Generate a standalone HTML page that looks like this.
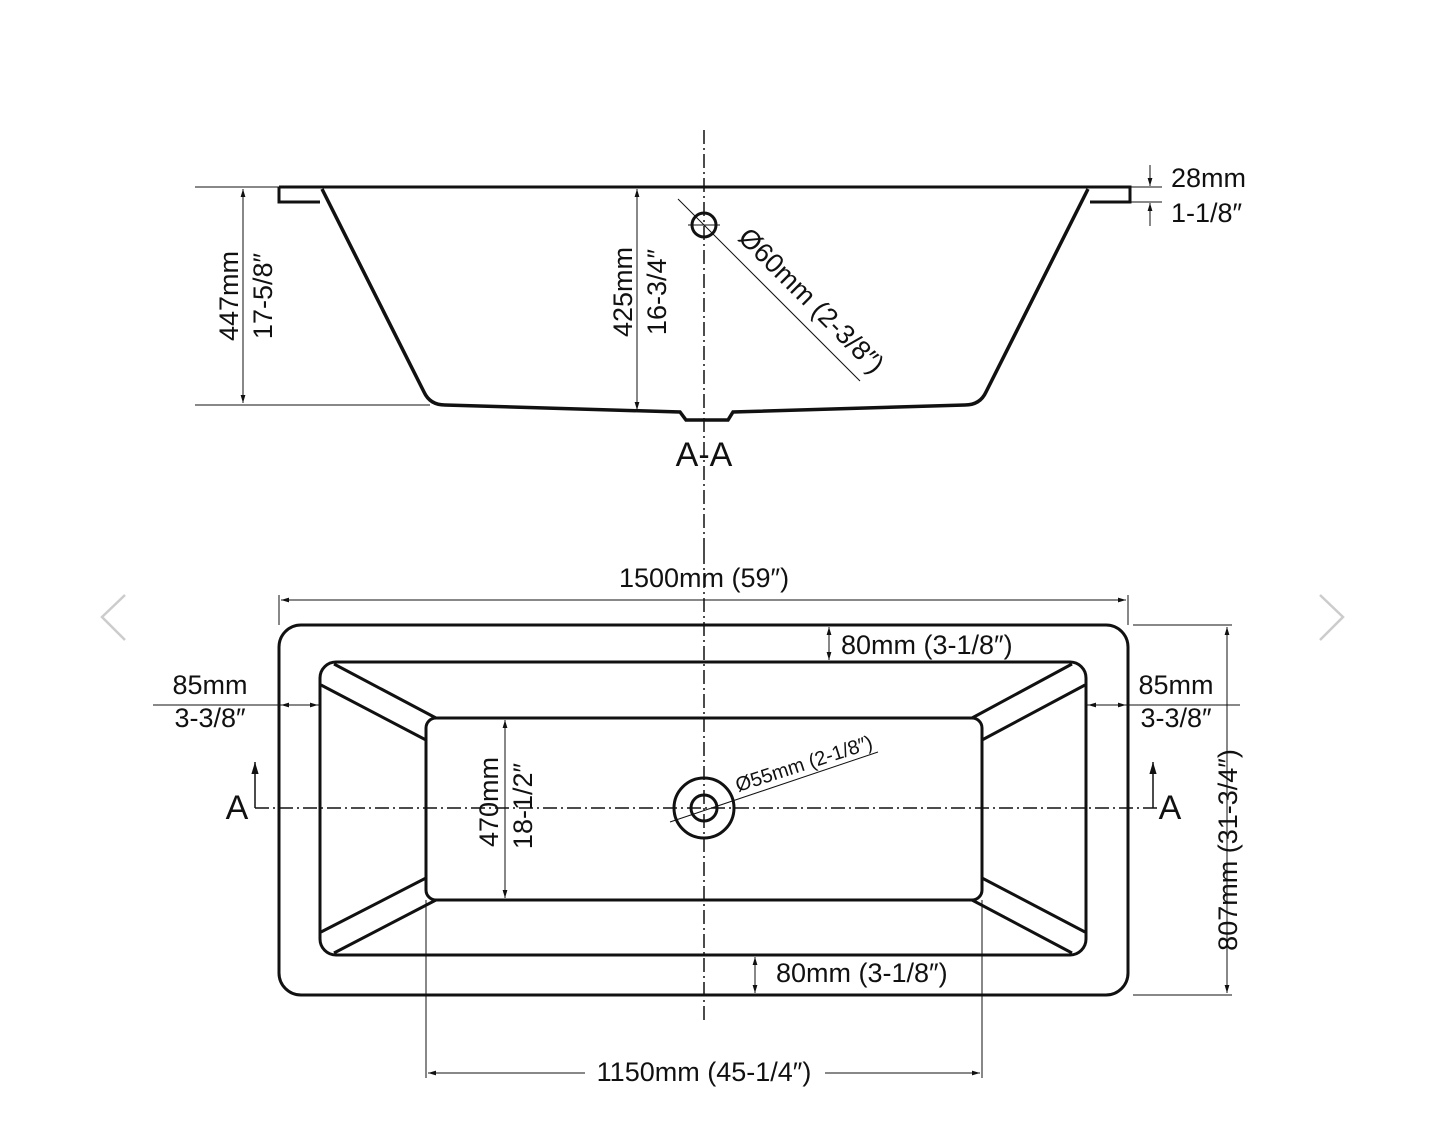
<!DOCTYPE html>
<html><head><style>html,body{margin:0;padding:0;background:#fff}svg{display:block}text{font-family:"Liberation Sans",sans-serif;fill:#111}</style></head><body>
<svg width="1445" height="1125" viewBox="0 0 1445 1125" xmlns="http://www.w3.org/2000/svg">
<defs>
<marker id="a" viewBox="0 0 10 10" refX="10" refY="5" markerWidth="8" markerHeight="8" orient="auto-start-reverse"><path d="M0,2 L10,5 L0,8 z" fill="#111"/></marker>
</defs>
<g stroke="#ccc" stroke-width="2.5" fill="none"><path d="M125,595 L102,617 L125,640"/><path d="M1320,595 L1343,617 L1320,640"/></g>
<g stroke="#111" fill="none">
<line x1="195" y1="187" x2="279" y2="187" stroke-width="1"/>
<line x1="1130" y1="187" x2="1162" y2="187" stroke-width="1"/>
<line x1="1130" y1="202" x2="1162" y2="202" stroke-width="1"/>
<line x1="195" y1="405" x2="430" y2="405" stroke-width="1"/>
<path d="M279,187 L1130,187 L1130,202 L1090,202 M279,187 L279,202 L320,202" stroke-width="3"/>
<path d="M322,189 L424,392 Q430,405 445,405 L680,412 L686,420 L728,420 L733,412 L965,405 Q980,405 986,392 L1088,189" stroke-width="3.5"/>
<line x1="704" y1="130" x2="704" y2="550" stroke-width="1.5" stroke-dasharray="14,4,2,4"/>
<line x1="243" y1="189" x2="243" y2="403" stroke-width="1" marker-start="url(#a)" marker-end="url(#a)"/>
<line x1="637" y1="189" x2="637" y2="410" stroke-width="1" marker-start="url(#a)" marker-end="url(#a)"/>
<circle cx="704" cy="225" r="12" stroke-width="3"/>
<line x1="688" y1="225" x2="720" y2="225" stroke-width="1"/>
<line x1="678" y1="199" x2="860" y2="381" stroke-width="1"/>
<line x1="1150" y1="165" x2="1150" y2="186" stroke-width="1" marker-end="url(#a)"/>
<line x1="1150" y1="226" x2="1150" y2="203" stroke-width="1" marker-end="url(#a)"/>
</g>
<g font-size="27">
<text text-anchor="middle" transform="translate(238,296) rotate(-90)">447mm</text>
<text text-anchor="middle" transform="translate(272,296) rotate(-90)">17-5/8″</text>
<text text-anchor="middle" transform="translate(632,292) rotate(-90)">425mm</text>
<text text-anchor="middle" transform="translate(666,292) rotate(-90)">16-3/4″</text>
<text text-anchor="middle" transform="translate(805,307) rotate(45)">Ø60mm (2-3/8″)</text>
<text x="1171" y="187">28mm</text>
<text x="1171" y="222">1-1/8″</text>
</g>
<text x="704" y="466" font-size="34" text-anchor="middle">A-A</text>
<g stroke="#111" fill="none">
<rect x="279" y="625" width="849" height="370" rx="22" stroke-width="3"/>
<rect x="320" y="662" width="766" height="293" rx="16" stroke-width="3"/>
<rect x="426" y="718" width="556" height="182" rx="10" stroke-width="3"/>
<path d="M334,664 L436,718 M321,685 L426,740 M334,953 L436,900 M321,932 L426,878 M1072,664 L972,718 M1085,685 L982,740 M1072,953 L972,900 M1085,932 L982,878" stroke-width="3"/>
<line x1="255" y1="808" x2="1160" y2="808" stroke-width="1.5" stroke-dasharray="14,4,2,4"/>
<line x1="704" y1="550" x2="704" y2="1020" stroke-width="1.5" stroke-dasharray="14,4,2,4"/>
<circle cx="704" cy="808" r="30" stroke-width="3"/>
<circle cx="704" cy="808" r="13" stroke-width="3"/>
<line x1="670" y1="822" x2="878" y2="752" stroke-width="1"/>
<line x1="279" y1="595" x2="279" y2="625" stroke-width="1"/>
<line x1="1128" y1="595" x2="1128" y2="625" stroke-width="1"/>
<line x1="281" y1="600" x2="1126" y2="600" stroke-width="1" marker-start="url(#a)" marker-end="url(#a)"/>
<line x1="1133" y1="625" x2="1232" y2="625" stroke-width="1"/>
<line x1="1133" y1="995" x2="1232" y2="995" stroke-width="1"/>
<line x1="1227" y1="627" x2="1227" y2="993" stroke-width="1" marker-start="url(#a)" marker-end="url(#a)"/>
<line x1="829" y1="627" x2="829" y2="660" stroke-width="1" marker-start="url(#a)" marker-end="url(#a)"/>
<line x1="755" y1="957" x2="755" y2="993" stroke-width="1" marker-start="url(#a)" marker-end="url(#a)"/>
<line x1="153" y1="705" x2="320" y2="705" stroke-width="1"/>
<line x1="281" y1="705" x2="318" y2="705" stroke-width="1" marker-start="url(#a)" marker-end="url(#a)"/>
<line x1="1086" y1="705" x2="1240" y2="705" stroke-width="1"/>
<line x1="1088" y1="705" x2="1126" y2="705" stroke-width="1" marker-start="url(#a)" marker-end="url(#a)"/>
<line x1="426" y1="900" x2="426" y2="1078" stroke-width="1"/>
<line x1="982" y1="900" x2="982" y2="1078" stroke-width="1"/>
<line x1="428" y1="1073" x2="585" y2="1073" stroke-width="1" marker-start="url(#a)"/>
<line x1="825" y1="1073" x2="980" y2="1073" stroke-width="1" marker-end="url(#a)"/>
<line x1="505" y1="720" x2="505" y2="898" stroke-width="1" marker-start="url(#a)" marker-end="url(#a)"/>
<path d="M255,808 L255,762" stroke-width="1.5" marker-end="url(#a)"/>
<path d="M1153,808 L1153,762" stroke-width="1.5" marker-end="url(#a)"/>
</g>
<g font-size="27">
<text x="704" y="587" text-anchor="middle">1500mm (59″)</text>
<text x="841" y="654">80mm (3-1/8″)</text>
<text x="776" y="982">80mm (3-1/8″)</text>
<text x="210" y="694" text-anchor="middle">85mm</text>
<text x="210" y="727" text-anchor="middle">3-3/8″</text>
<text x="1176" y="694" text-anchor="middle">85mm</text>
<text x="1176" y="727" text-anchor="middle">3-3/8″</text>
<text x="704" y="1081" text-anchor="middle">1150mm (45-1/4″)</text>
<text text-anchor="middle" transform="translate(498,802) rotate(-90)">470mm</text>
<text text-anchor="middle" transform="translate(532,806) rotate(-90)">18-1/2″</text>
<text text-anchor="middle" transform="translate(1237,850) rotate(-90)">807mm (31-3/4″)</text>
</g>
<text font-size="20" text-anchor="middle" transform="translate(806,770) rotate(-18)">Ø55mm (2-1/8″)</text>
<text x="237" y="819" font-size="34" text-anchor="middle">A</text>
<text x="1170" y="819" font-size="34" text-anchor="middle">A</text>
</svg>
</body></html>
